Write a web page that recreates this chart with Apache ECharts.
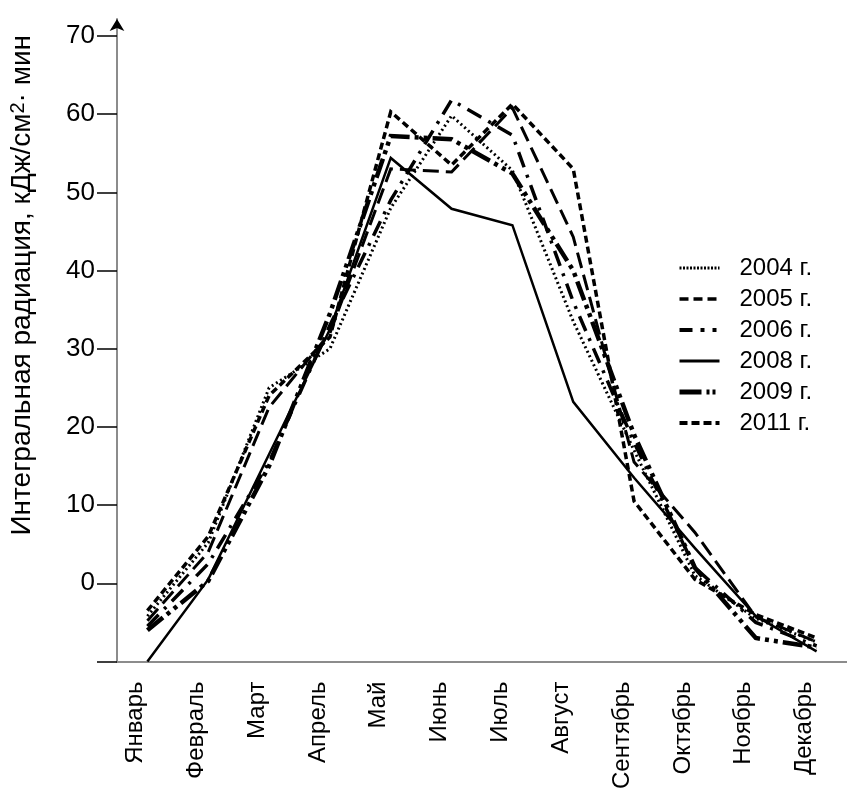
<!DOCTYPE html>
<html>
<head>
<meta charset="utf-8">
<script src="https://cdn.jsdelivr.net/npm/echarts@6/dist/echarts.min.js"></script>
<style>
  html, body { margin: 0; padding: 0; background: #fff; }
  #chart { width: 847px; height: 792px; }
</style>
</head>
<body>
<div id="chart"></div>
<script>
// Monthly integral radiation, kJ/cm2·min
const months = ['Январь', 'Февраль', 'Март', 'Апрель', 'Май', 'Июнь',
                'Июль', 'Август', 'Сентябрь', 'Октябрь', 'Ноябрь', 'Декабрь'];

const y2004 = [-4.2, 5.2, 25.0, 30.0, 48.0, 59.8, 52.8, 33.5, 17.0, 1.0, -4.5, -7.5];
const y2005 = [-4.8, 4.0, 22.5, 32.0, 53.0, 52.6, 60.8, 44.3, 15.5, 6.5, -4.3, -7.5];
const y2006 = [-5.5, 2.5, 15.5, 33.0, 49.0, 61.8, 57.3, 36.0, 18.0, 2.0, -5.0, -8.0];
const y2008 = [-10.0, 0.5, 16.5, 32.5, 54.4, 47.9, 45.8, 23.2, 13.5, 4.5, -4.2, -8.7];
const y2009 = [-6.0, 0.3, 15.0, 34.5, 57.2, 56.8, 52.4, 40.0, 19.0, 2.0, -7.0, -8.2];
const y2011 = [-3.5, 6.0, 24.0, 31.5, 60.3, 53.5, 61.3, 53.0, 10.5, 0.5, -4.0, -7.0];

const yTicks = [-10, 0, 10, 20, 30, 40, 50, 60, 70];
const seriesNames = ['2004 г.', '2005 г.', '2006 г.', '2008 г.', '2009 г.', '2011 г.'];

const FONT = 'Liberation Sans, Arial, sans-serif';
const Y_MIN = -10;
const Y_MAX = 72.17;

// Each year has its own dash pattern, all drawn in black
const styles = [
  { width: 3,   type: [2, 3] },
  { width: 3,   type: [16, 7] },
  { width: 3.5, type: [16, 8, 3, 8] },
  { width: 2.5, type: 'solid' },
  { width: 4.5, type: [20, 5, 4, 5, 4, 5] },
  { width: 3.5, type: [7, 4] }
];
// Legend swatches are drawn a little heavier than the plotted lines
const legendStyles = [
  { width: 3,   type: [2, 1.5] },
  { width: 3.5, type: [9, 5] },
  { width: 4,   type: [13, 8, 4, 8, 4, 8] },
  { width: 3,   type: 'solid' },
  { width: 5,   type: [22, 5, 3, 3, 3, 5] },
  { width: 4,   type: [8, 4] }
];
const values = [y2004, y2005, y2006, y2008, y2009, y2011];

const series = values.map((d, i) => ({
  name: seriesNames[i],
  type: 'line',
  data: d,
  symbol: 'none',
  smooth: false,
  lineStyle: { color: '#000', width: styles[i].width, type: styles[i].type, cap: 'butt', join: 'miter' },
  itemStyle: { color: '#000' }
}));

const chart = echarts.init(document.getElementById('chart'), null, { renderer: 'canvas' });
chart.setOption({
  animation: false,
  backgroundColor: '#fff',
  grid: { left: 114, top: 19, width: 751, height: 643, containLabel: false },
  legend: {
    orient: 'vertical',
    left: 672,
    top: 251,
    itemWidth: 40,
    itemHeight: 14,
    itemGap: 7,
    itemStyle: { opacity: 0 },
    textStyle: { fontSize: 24, color: '#000', fontFamily: FONT, padding: [0, 0, 0, 15] },
    data: seriesNames.map((n, i) => ({
      name: n,
      lineStyle: { color: '#000', width: legendStyles[i].width, type: legendStyles[i].type }
    }))
  },
  xAxis: {
    type: 'category',
    data: months,
    boundaryGap: true,
    axisLine: { show: true, onZero: false, lineStyle: { color: '#8c8c8c', width: 2 } },
    axisTick: { show: false },
    splitLine: { show: false },
    axisLabel: {
      interval: 0,
      rotate: 90,
      margin: 20,
      fontSize: 24,
      color: '#000',
      fontFamily: FONT,
      verticalAlign: 'bottom'
    }
  },
  yAxis: [{
    type: 'value',
    min: Y_MIN,
    max: Y_MAX,
    name: '{t|Интегральная радиация, кДж/см}{s|2}{t|· мин}',
    nameLocation: 'middle',
    nameGap: 81,
    nameRotate: 90,
    nameTextStyle: {
      padding: [0, 0, 0, 110],
      rich: {
        t: { fontSize: 28, color: '#000', fontFamily: FONT },
        s: { fontSize: 20, color: '#000', fontFamily: FONT, verticalAlign: 'top' }
      }
    },
    axisLine: {
      show: true,
      lineStyle: { color: '#8c8c8c', width: 2 }
    },
    axisTick: {
      show: true,
      inside: false,
      length: 20,
      customValues: yTicks,
      lineStyle: { color: '#000', width: 1.5 }
    },
    axisLabel: {
      customValues: yTicks,
      formatter: v => (v === -10 ? '' : String(v)),
      margin: 22,
      fontSize: 26,
      color: '#000',
      fontFamily: FONT
    },
    splitLine: { show: false }
  }, {
    // black arrow head on top of the vertical axis; its own line is dashed to nothing
    type: 'value',
    position: 'left',
    min: Y_MIN,
    max: Y_MAX,
    axisLine: {
      show: true,
      lineStyle: { color: '#000', width: 2, type: [0, 100000], cap: 'butt' },
      symbol: ['none', 'arrow'],
      symbolSize: [11, 12]
    },
    axisTick: { show: false },
    axisLabel: { show: false },
    splitLine: { show: false }
  }],
  series: series
});
</script>
</body>
</html>
